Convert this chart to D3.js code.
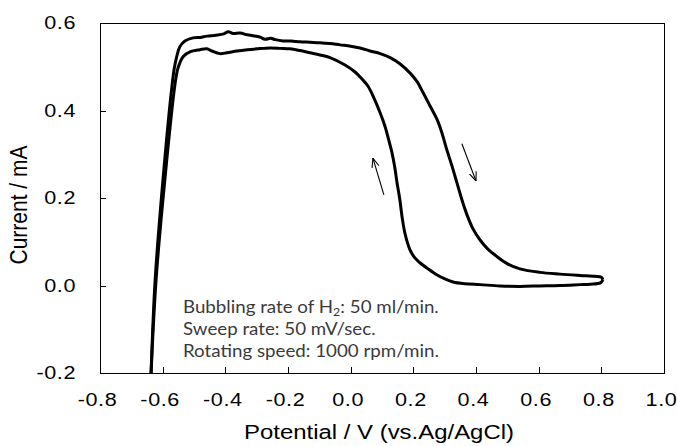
<!DOCTYPE html>
<html>
<head>
<meta charset="utf-8">
<script src="https://cdn.jsdelivr.net/npm/d3@7"></script>
<style>
  body { margin: 0; background: #fff; }
  svg { display: block; }
</style>
</head>
<body>
<div id="chart"></div>
<script>
// tick values
var xTicks = [-0.8, -0.6, -0.4, -0.2, 0.0, 0.2, 0.4, 0.6, 0.8, 1.0];
var yTicks = [-0.2, 0.0, 0.2, 0.4, 0.6];

// forward sweep (to positive potential), [V, mA]
var forwardSweep = [
  [-0.637, -0.200], [-0.624, 0.013], [-0.599, 0.242], [-0.570, 0.458], [-0.561, 0.504],
  [-0.545, 0.546], [-0.529, 0.559], [-0.503, 0.566], [-0.480, 0.567], [-0.459, 0.570],
  [-0.430, 0.572], [-0.405, 0.575], [-0.391, 0.580], [-0.375, 0.576], [-0.353, 0.577],
  [-0.330, 0.573], [-0.312, 0.571], [-0.290, 0.568], [-0.273, 0.563], [-0.255, 0.565],
  [-0.241, 0.562], [-0.216, 0.559], [-0.190, 0.559], [-0.162, 0.557], [-0.130, 0.556],
  [-0.098, 0.555], [-0.066, 0.553], [-0.034, 0.550], [0.000, 0.547], [0.030, 0.543],
  [0.062, 0.536], [0.094, 0.530], [0.126, 0.521], [0.157, 0.507], [0.189, 0.486],
  [0.212, 0.466], [0.231, 0.441], [0.253, 0.411], [0.276, 0.379], [0.292, 0.347],
  [0.307, 0.310], [0.323, 0.274], [0.339, 0.235], [0.355, 0.196], [0.371, 0.162],
  [0.390, 0.130], [0.413, 0.104], [0.438, 0.083], [0.467, 0.066], [0.502, 0.049],
  [0.540, 0.038], [0.604, 0.030], [0.668, 0.026], [0.732, 0.023], [0.780, 0.021],
  [0.800, 0.019], [0.805, 0.013]
];

// reverse sweep (back to negative potential), [V, mA]
var reverseSweep = [
  [0.805, 0.013], [0.797, 0.006], [0.765, 0.003], [0.732, 0.002], [0.668, 0.000],
  [0.604, -0.001], [0.540, -0.002], [0.477, -0.001], [0.413, 0.002], [0.365, 0.004],
  [0.327, 0.008], [0.301, 0.015], [0.276, 0.024], [0.247, 0.038], [0.221, 0.052],
  [0.205, 0.063], [0.189, 0.082], [0.173, 0.120], [0.164, 0.157], [0.157, 0.196],
  [0.148, 0.235], [0.141, 0.269], [0.132, 0.303], [0.122, 0.331], [0.110, 0.363],
  [0.094, 0.395], [0.074, 0.429], [0.055, 0.456], [0.036, 0.472], [0.014, 0.488],
  [-0.018, 0.504], [-0.066, 0.521], [-0.098, 0.527], [-0.130, 0.532], [-0.162, 0.537],
  [-0.194, 0.541], [-0.225, 0.542], [-0.257, 0.543], [-0.299, 0.541], [-0.330, 0.539],
  [-0.363, 0.536], [-0.395, 0.532], [-0.417, 0.530], [-0.443, 0.536], [-0.459, 0.541],
  [-0.481, 0.539], [-0.513, 0.534], [-0.535, 0.523], [-0.551, 0.497], [-0.561, 0.458],
  [-0.593, 0.242], [-0.621, 0.013], [-0.637, -0.200]
];

// sweep direction arrows, [tail, head]
var arrowReverse = [[0.106, 0.207], [0.071, 0.291]];
var arrowForward = [[0.355, 0.324], [0.400, 0.239]];

var notes = ['Bubbling rate of H', ': 50 ml/min.', 'Sweep rate: 50 mV/sec.', 'Rotating speed: 1000 rpm/min.'];

var W = 677, H = 446;
var margin = { top: 23, right: 13, bottom: 73, left: 100 };
var width = W - margin.left - margin.right;
var height = H - margin.top - margin.bottom;

var svg = d3.select('#chart').append('svg')
  .attr('width', W)
  .attr('height', H);

var g = svg.append('g').attr('transform', 'translate(' + margin.left + ',' + margin.top + ')');

var x = d3.scaleLinear().domain([-0.8, 1.0]).range([0, width]);
var y = d3.scaleLinear().domain([-0.2, 0.6]).range([height, 0]);

var tickFont = 'Liberation Sans, Arial, sans-serif';
var stretch = 1.14;
var tickStretch = 1.2;
var fmt = function(d) { return d3.format('.1f')(d).replace('\u2212', '-'); };

// frame
g.append('rect')
  .attr('width', width).attr('height', height)
  .attr('fill', 'none').attr('stroke', '#000').attr('stroke-width', 1)
  .attr('shape-rendering', 'crispEdges');

// x axis
var xAxis = g.append('g')
  .attr('transform', 'translate(0,' + height + ')')
  .call(d3.axisBottom(x).tickValues(xTicks).tickFormat(fmt).tickSizeInner(-6).tickSizeOuter(0).tickPadding(20));
xAxis.select('.domain').remove();
xAxis.selectAll('line').attr('stroke', '#000').attr('shape-rendering', 'crispEdges')
  .filter(function(d) { return d === -0.8 || d === 1.0; }).remove();
xAxis.selectAll('text')
  .attr('font-family', tickFont).attr('font-size', 18).attr('fill', '#000')
  .attr('letter-spacing', 0.5)
  .attr('x', -3 / tickStretch)
  .attr('transform', 'scale(' + tickStretch + ',1)');

// y axis
var yAxis = g.append('g')
  .call(d3.axisLeft(y).tickValues(yTicks).tickFormat(fmt).tickSizeInner(-6).tickSizeOuter(0).tickPadding(0));
yAxis.select('.domain').remove();
yAxis.selectAll('line').attr('stroke', '#000').attr('shape-rendering', 'crispEdges')
  .filter(function(d) { return d === -0.2 || d === 0.6; }).remove();
yAxis.selectAll('text')
  .attr('font-family', tickFont).attr('font-size', 18).attr('fill', '#000')
  .attr('letter-spacing', 0.5)
  .attr('x', -24 / tickStretch)
  .attr('transform', 'scale(' + tickStretch + ',1)');

// axis titles
svg.append('text')
  .attr('transform', 'translate(379,439) scale(' + stretch + ',1)')
  .attr('text-anchor', 'middle')
  .attr('font-family', tickFont).attr('font-size', 21).attr('fill', '#000')
  .text('Potential / V (vs.Ag/AgCl)');

svg.append('text')
  .attr('transform', 'translate(27,205) scale(' + stretch + ',1) rotate(-90)')
  .attr('text-anchor', 'middle')
  .attr('font-family', tickFont).attr('font-size', 21).attr('fill', '#000')
  .text('Current / mA');

// curves
var line = d3.line()
  .x(function(d) { return x(d[0]); })
  .y(function(d) { return y(d[1]); })
  .curve(d3.curveCatmullRom.alpha(0.5));

var plot = g.append('g');
[forwardSweep, reverseSweep].forEach(function(s) {
  plot.append('path')
    .datum(s)
    .attr('d', line)
    .attr('fill', 'none')
    .attr('stroke', '#000')
    .attr('stroke-width', 3)
    .attr('stroke-linejoin', 'round');
});

// arrows
svg.append('defs').append('marker')
  .attr('id', 'head')
  .attr('viewBox', '0 0 10 10')
  .attr('refX', 10).attr('refY', 5)
  .attr('markerWidth', 9).attr('markerHeight', 9)
  .attr('markerUnits', 'userSpaceOnUse')
  .attr('orient', 'auto')
  .append('path')
  .attr('d', 'M0,1 L10,5 L0,9')
  .attr('fill', 'none').attr('stroke', '#000').attr('stroke-width', 1.2);

[arrowReverse, arrowForward].forEach(function(a) {
  g.append('line')
    .attr('x1', x(a[0][0])).attr('y1', y(a[0][1]))
    .attr('x2', x(a[1][0])).attr('y2', y(a[1][1]))
    .attr('stroke', '#000').attr('stroke-width', 1.1)
    .attr('marker-end', 'url(#head)');
});

// experiment notes
var noteFont = 'Lato, sans-serif';
var noteScale = 'scale(1.04,1)';
var n1 = svg.append('text')
  .attr('transform', 'translate(183,313) ' + noteScale)
  .attr('font-family', noteFont).attr('font-size', 18).attr('fill', '#3a3a3a');
n1.append('tspan').text(notes[0]);
n1.append('tspan').attr('font-size', 12).attr('dy', 3).text('2');
n1.append('tspan').attr('dy', -3).text(notes[1]);

svg.append('text')
  .attr('transform', 'translate(183,335) ' + noteScale)
  .attr('font-family', noteFont).attr('font-size', 18).attr('fill', '#3a3a3a')
  .text(notes[2]);

svg.append('text')
  .attr('transform', 'translate(183,357) ' + noteScale)
  .attr('font-family', noteFont).attr('font-size', 18).attr('fill', '#3a3a3a')
  .text(notes[3]);
</script>
</body>
</html>
